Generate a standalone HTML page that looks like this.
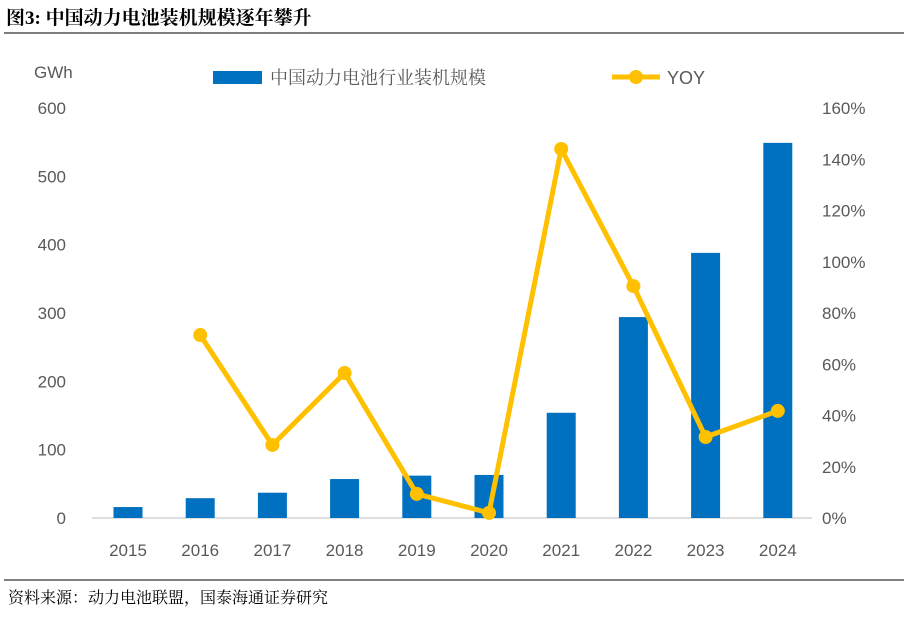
<!DOCTYPE html>
<html><head><meta charset="utf-8"><style>
body{margin:0;background:#fff;width:908px;height:612px;overflow:hidden;font-family:"Liberation Sans","Noto Sans CJK SC",sans-serif}
</style></head><body>
<svg id="c" width="908" height="612" xmlns="http://www.w3.org/2000/svg">
<text x="6" y="24" font-size="19" font-weight="bold" fill="#000" font-family="Liberation Serif,Noto Serif CJK SC,serif">图3:  中国动力电池装机规模逐年攀升</text>
<line x1="4" y1="33" x2="904" y2="33" stroke="#555" stroke-width="1.5"/>
<text x="34" y="78" font-size="17" fill="#595959">GWh</text>
<rect x="213" y="71" width="49" height="13" fill="#0070C0"/>
<text x="270" y="84" font-size="18" fill="#595959" font-family="Noto Serif CJK SC,serif">中国动力电池行业装机规模</text>
<line x1="612" y1="77" x2="660" y2="77" stroke="#FFC000" stroke-width="5"/>
<circle cx="636" cy="77" r="7" fill="#FFC000"/>
<text x="667" y="84" font-size="18" fill="#595959">YOY</text>
<line x1="92" y1="518" x2="812" y2="518" stroke="#bfbfbf" stroke-width="1"/>
<g id="g"></g>
<line x1="4" y1="580" x2="904" y2="580" stroke="#555" stroke-width="1.5"/>
<text x="8" y="603" font-size="16" fill="#000" font-family="Noto Serif CJK SC,serif">资料来源：动力电池联盟，国泰海通证券研究</text>
</svg>
<script>
const years=["2015","2016","2017","2018","2019","2020","2021","2022","2023","2024"];
const capacity=[16,29,37,57,62,63,154,294,388,549];
const yoy=[null,71.4,28.5,56.6,9.4,2,144,90.5,31.6,41.8];
const leftTicks=[0,100,200,300,400,500,600];
const rightTicks=[0,20,40,60,80,100,120,140,160];
const NS="http://www.w3.org/2000/svg",g=document.getElementById('g');
const y0=518,yTop=108;
const yL=v=>y0-(v/600)*(y0-yTop);
const yR=v=>y0-(v/160)*(y0-yTop);
const xC=i=>128+i*72.2;
function el(t,a){const e=document.createElementNS(NS,t);for(const k in a)e.setAttribute(k,a[k]);g.appendChild(e);return e;}
leftTicks.forEach(v=>{const t=el('text',{x:66,y:yL(v)+6,'text-anchor':'end','font-size':17,fill:'#595959'});t.textContent=v;

});
rightTicks.forEach(v=>{const t=el('text',{x:822,y:yR(v)+6,'font-size':17,fill:'#595959'});t.textContent=v+'%';

});
years.forEach((y,i)=>{const t=el('text',{x:xC(i),y:556,'text-anchor':'middle','font-size':17,fill:'#595959'});t.textContent=y;

});
capacity.forEach((v,i)=>{const r=el('rect',{x:xC(i)-14.5,y:yL(v),width:29,height:y0-yL(v),fill:'#0070C0'});

});
const pts=[];yoy.forEach((v,i)=>{if(v!==null)pts.push([xC(i),yR(v)]);});
const pl=el('polyline',{points:pts.map(p=>p.join(',')).join(' '),fill:'none',stroke:'#FFC000','stroke-width':5,'stroke-linejoin':'round'});


pts.forEach(p=>{const c=el('circle',{cx:p[0],cy:p[1],r:7,fill:'#FFC000'});

});
</script>
</body></html>
